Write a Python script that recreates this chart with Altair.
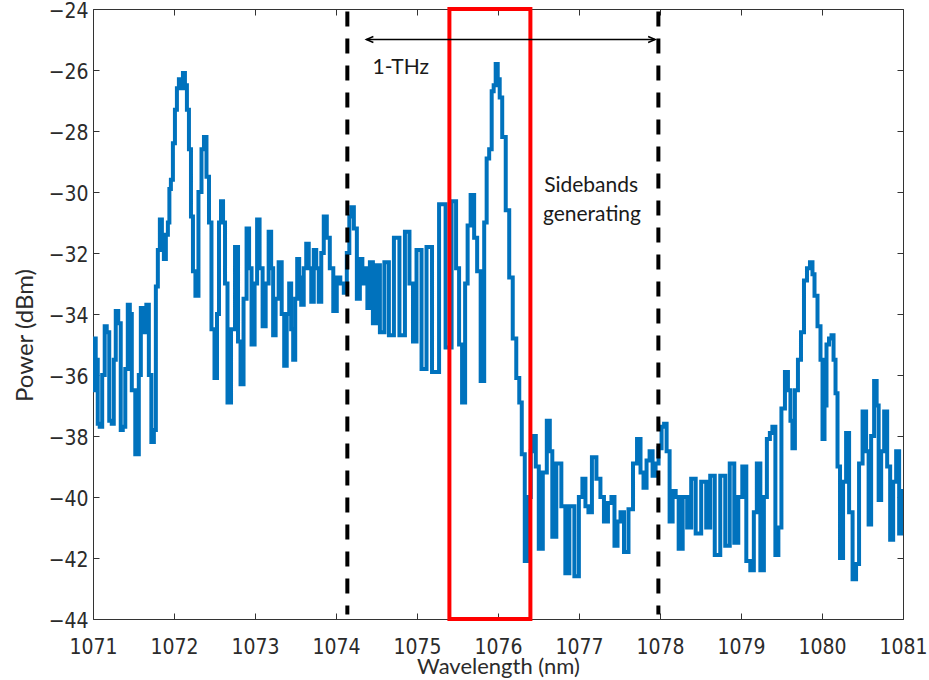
import altair as alt
import pandas as pd

# Measured optical spectrum (wavelength in nm, power in dBm)
wavelength_nm = [
    1071.000, 1071.021, 1071.046, 1071.071, 1071.095, 1071.132, 1071.157, 1071.182, 1071.219, 1071.244,
    1071.269, 1071.293, 1071.330, 1071.355, 1071.380, 1071.417, 1071.442, 1071.467, 1071.491, 1071.553,
    1071.578, 1071.603, 1071.640, 1071.677, 1071.702, 1071.739, 1071.764, 1071.788, 1071.813, 1071.838,
    1071.863, 1071.887, 1071.912, 1071.937, 1071.949, 1071.974, 1071.999, 1072.024, 1072.048, 1072.073,
    1072.098, 1072.123, 1072.147, 1072.172, 1072.197, 1072.222, 1072.246, 1072.283, 1072.321, 1072.358,
    1072.382, 1072.420, 1072.444, 1072.481, 1072.519, 1072.543, 1072.568, 1072.593, 1072.618, 1072.642,
    1072.679, 1072.729, 1072.778, 1072.803, 1072.840, 1072.877, 1072.915, 1072.939, 1072.976, 1073.014,
    1073.038, 1073.075, 1073.113, 1073.150, 1073.187, 1073.212, 1073.236, 1073.273, 1073.311, 1073.348,
    1073.373, 1073.410, 1073.434, 1073.459, 1073.484, 1073.509, 1073.533, 1073.558, 1073.583, 1073.620,
    1073.645, 1073.682, 1073.707, 1073.744, 1073.768, 1073.806, 1073.830, 1073.868, 1073.905, 1073.942,
    1073.991, 1074.028, 1074.078, 1074.115, 1074.152, 1074.177, 1074.202, 1074.239, 1074.276, 1074.313,
    1074.338, 1074.375, 1074.400, 1074.437, 1074.474, 1074.511, 1074.573, 1074.622, 1074.684, 1074.746,
    1074.820, 1074.882, 1074.932, 1074.969, 1075.019, 1075.093, 1075.142, 1075.229, 1075.316, 1075.390,
    1075.464, 1075.501, 1075.538, 1075.575, 1075.613, 1075.637, 1075.687, 1075.724, 1075.761, 1075.811,
    1075.848, 1075.872, 1075.910, 1075.934, 1075.959, 1075.984, 1076.009, 1076.033, 1076.071, 1076.120,
    1076.157, 1076.207, 1076.244, 1076.281, 1076.306, 1076.355, 1076.392, 1076.417, 1076.454, 1076.479,
    1076.528, 1076.578, 1076.627, 1076.652, 1076.689, 1076.751, 1076.813, 1076.850, 1076.912, 1076.974,
    1077.023, 1077.061, 1077.098, 1077.135, 1077.184, 1077.246, 1077.283, 1077.333, 1077.382, 1077.419,
    1077.457, 1077.494, 1077.531, 1077.580, 1077.642, 1077.692, 1077.741, 1077.778, 1077.815, 1077.853,
    1077.890, 1077.927, 1077.964, 1078.001, 1078.038, 1078.063, 1078.100, 1078.137, 1078.175, 1078.212,
    1078.249, 1078.311, 1078.360, 1078.410, 1078.471, 1078.546, 1078.595, 1078.645, 1078.707, 1078.781,
    1078.830, 1078.892, 1078.942, 1078.991, 1079.041, 1079.090, 1079.140, 1079.177, 1079.214, 1079.264,
    1079.301, 1079.338, 1079.375, 1079.400, 1079.449, 1079.474, 1079.524, 1079.561, 1079.598, 1079.623,
    1079.647, 1079.684, 1079.722, 1079.759, 1079.796, 1079.833, 1079.870, 1079.895, 1079.920, 1079.969,
    1079.994, 1080.019, 1080.043, 1080.068, 1080.105, 1080.130, 1080.155, 1080.179, 1080.204, 1080.241,
    1080.279, 1080.316, 1080.353, 1080.402, 1080.439, 1080.476, 1080.526, 1080.563, 1080.588, 1080.625,
    1080.662, 1080.687, 1080.712, 1080.749, 1080.786, 1080.823, 1080.860, 1080.897, 1080.934, 1080.971,
    1080.985, 1081.000,
]
power_dbm = [
    -36.5, -34.8, -35.5, -37.6, -37.7, -36.0, -34.4, -34.6, -37.5, -37.6,
    -35.5, -33.9, -34.3, -37.8, -37.7, -35.8, -33.7, -34.0, -36.5, -38.6,
    -36.0, -33.8, -34.6, -33.7, -36.0, -38.2, -37.8, -33.1, -31.9, -30.9,
    -31.5, -32.2, -31.4, -31.0, -29.9, -29.6, -28.4, -27.3, -26.6, -26.3,
    -26.6, -26.1, -26.5, -27.3, -28.6, -30.8, -32.6, -33.4, -30.0, -28.6,
    -28.2, -29.5, -31.0, -34.5, -36.1, -34.0, -31.0, -30.3, -31.0, -33.0,
    -36.9, -34.5, -31.8, -34.9, -36.3, -33.5, -31.2, -32.5, -35.0, -33.0,
    -30.9, -32.5, -34.4, -33.0, -31.3, -32.5, -34.7, -33.5, -32.3, -34.0,
    -35.7, -34.0, -33.0, -34.5, -35.5, -33.5, -32.2, -32.8, -33.7, -32.5,
    -31.7, -32.5, -33.6, -31.9, -32.5, -33.6, -32.0, -30.8, -31.5, -32.5,
    -33.9, -32.8, -33.0, -33.3, -32.0, -30.8, -30.5, -31.2, -33.5, -32.2,
    -33.0, -32.5, -33.8, -32.3, -34.3, -32.4, -34.6, -32.3, -34.7, -31.5,
    -34.7, -31.3, -33.0, -34.9, -31.9, -35.8, -31.8, -35.9, -30.4, -35.1,
    -30.3, -32.5, -35.0, -36.9, -33.0, -31.1, -30.1, -31.5, -32.6, -36.2,
    -31.0, -28.9, -28.6, -26.7, -26.5, -25.8, -26.3, -26.9, -28.2, -30.6,
    -32.8, -34.8, -36.1, -36.9, -38.6, -42.1, -40.0, -38.5, -38.0, -39.0,
    -41.7, -39.2, -37.5, -38.5, -41.3, -38.9, -40.3, -42.5, -40.3, -42.6,
    -40.0, -39.4, -40.3, -40.5, -38.7, -39.4, -40.0, -40.8, -40.2, -40.0,
    -41.6, -40.8, -40.5, -41.8, -40.4, -38.9, -38.1, -39.2, -39.7, -38.8,
    -38.5, -39.3, -38.9, -38.4, -37.7, -37.6, -38.5, -40.8, -39.8, -40.0,
    -41.7, -40.0, -41.0, -39.4, -41.2, -39.5, -41.0, -39.3, -41.9, -39.3,
    -41.6, -38.9, -41.5, -40.0, -39.0, -42.1, -42.4, -40.5, -38.9, -42.4,
    -40.0, -38.1, -37.9, -37.7, -41.9, -41.0, -37.1, -35.9, -36.5, -37.5,
    -38.4, -36.5, -35.5, -34.6, -32.9, -32.5, -32.3, -32.7, -33.4, -34.4,
    -35.5, -38.1, -37.0, -35.0, -34.8, -34.7, -35.5, -36.6, -39.0, -42.0,
    -39.5, -37.9, -40.5, -42.7, -42.2, -38.9, -37.2, -38.5, -40.9, -38.0,
    -36.2, -37.0, -40.1, -38.5, -37.2, -39.0, -41.4, -39.5, -38.5, -41.2,
    -39.8, -41.0,
]

# Axis ticks
x_ticks = list(range(1071, 1082))
y_ticks = list(range(-44, -23, 2))

# Annotation geometry (data units)
marker_lines_nm = [1074.14, 1077.98]
window_start_nm, window_end_nm = 1075.40, 1076.40
span_start_nm, span_end_nm, span_level_dbm = 1074.375, 1077.94, -25.0
note_text = ["1-THz", "Sidebands", "generating"]
note_x = [1074.80, 1077.15, 1077.16]
note_y = [-25.93, -29.80, -30.75]

X_DOMAIN = [1071, 1081]
Y_DOMAIN = [-44, -24]
FRAME = "#333333"
LABEL_COLOR = "#2b2b2b"
TICK_FONT = "Liberation Sans Narrow, DejaVu Sans Condensed, Arial Narrow, Liberation Sans, sans-serif"
TITLE_FONT = "Lato, Open Sans, sans-serif"

xs = alt.Scale(domain=X_DOMAIN, nice=False, zero=False)
ys = alt.Scale(domain=Y_DOMAIN, nice=False, zero=False)

spectrum = pd.DataFrame({"wavelength": wavelength_nm, "power": power_dbm})

# Box-style axes: ticks point into the plot (axis shifted inward by the tick length)
bottom_axis = alt.Axis(
    values=x_ticks, format="d", orient="bottom", grid=False, domain=False,
    tickSize=6, offset=-6, tickColor=FRAME, tickWidth=1,
    labelFont=TICK_FONT, labelFontSize=21, labelColor=LABEL_COLOR, labelPadding=17,
    labelFlush=False, labelOverlap=False,
    title="Wavelength (nm)", titleFont=TITLE_FONT, titleFontSize=22,
    titleFontWeight="normal", titleColor=LABEL_COLOR, titlePadding=-1,
)
left_axis = alt.Axis(
    values=y_ticks, format="d", orient="left", grid=False, domain=False,
    tickSize=6, offset=-6, tickColor=FRAME, tickWidth=1,
    labelFont=TICK_FONT, labelFontSize=21, labelColor=LABEL_COLOR, labelPadding=5,
    labelFlush=False, labelOverlap=False, labelOffset=2,
    title="Power (dBm)", titleFont=TITLE_FONT, titleFontSize=24,
    titleFontWeight="normal", titleColor=LABEL_COLOR, titlePadding=11, titleY=326,
)
top_axis = alt.Axis(
    values=x_ticks, orient="top", grid=False, domain=False, labels=False,
    tickSize=6, offset=-6, tickColor=FRAME, tickWidth=1, title=None,
)
right_axis = alt.Axis(
    values=y_ticks, orient="right", grid=False, domain=False, labels=False,
    tickSize=6, offset=-6, tickColor=FRAME, tickWidth=1, title=None,
)

line = alt.Chart(spectrum).mark_line(
    color="#0072BD", strokeWidth=4, interpolate="step", clip=True
).encode(
    x=alt.X("wavelength:Q", scale=xs, axis=bottom_axis),
    y=alt.Y("power:Q", scale=ys, axis=left_axis),
)

markers = alt.Chart(pd.DataFrame({"wavelength": marker_lines_nm})).mark_rule(
    color="black", strokeWidth=4, strokeDash=[15, 12]
).encode(
    x=alt.X("wavelength:Q", scale=xs, axis=None),
    y=alt.datum(-24.08, scale=ys, axis=None),
    y2=alt.datum(-43.85),
)

window = alt.Chart(pd.DataFrame({
    "start": [window_start_nm], "end": [window_end_nm], "top": [-24.0], "bottom": [-44.0]
})).mark_rect(filled=False, stroke="#FF0000", strokeWidth=4, clip=False).encode(
    x=alt.X("start:Q", scale=xs, axis=top_axis),
    x2="end:Q",
    y=alt.Y("top:Q", scale=ys, axis=right_axis),
    y2="bottom:Q",
)

span = pd.DataFrame({"start": [span_start_nm], "end": [span_end_nm], "level": [span_level_dbm]})
span_line = alt.Chart(span).mark_rule(color="black", strokeWidth=1.5).encode(
    x=alt.X("start:Q", scale=xs, axis=None),
    x2="end:Q",
    y=alt.Y("level:Q", scale=ys, axis=None),
)
heads = pd.DataFrame({
    "wavelength": [span_start_nm, span_end_nm],
    "level": [span_level_dbm, span_level_dbm],
    "side": ["left", "right"],
})
head_left = alt.Chart(heads[heads.side == "left"]).mark_point(
    shape="M 2.8 -1.2 L 0 0 L 2.8 1.2", size=25, filled=False,
    stroke="black", strokeWidth=1.5, opacity=1
).encode(
    x=alt.X("wavelength:Q", scale=xs, axis=None),
    y=alt.Y("level:Q", scale=ys, axis=None),
)
head_right = alt.Chart(heads[heads.side == "right"]).mark_point(
    shape="M -2.8 -1.2 L 0 0 L -2.8 1.2", size=25, filled=False,
    stroke="black", strokeWidth=1.5, opacity=1
).encode(
    x=alt.X("wavelength:Q", scale=xs, axis=None),
    y=alt.Y("level:Q", scale=ys, axis=None),
)

notes = pd.DataFrame({"text": note_text, "wavelength": note_x, "level": note_y})
note_marks = alt.Chart(notes).mark_text(
    font=TITLE_FONT, fontSize=21, color="#1a1a1a", align="center", baseline="middle"
).encode(
    x=alt.X("wavelength:Q", scale=xs, axis=None),
    y=alt.Y("level:Q", scale=ys, axis=None),
    text="text:N",
)

chart = alt.layer(
    line, markers, window, span_line, head_left, head_right, note_marks
).resolve_axis(
    x="independent", y="independent"
).properties(
    width=810, height=610,
    autosize=alt.AutoSizeParams(type="none"),
    padding={"left": 93, "top": 9, "right": 26, "bottom": 61},
    background="white",
).configure_view(
    stroke=FRAME, strokeWidth=1
)

chart.save("out.html", embed_options={"renderer": "svg", "actions": False})
